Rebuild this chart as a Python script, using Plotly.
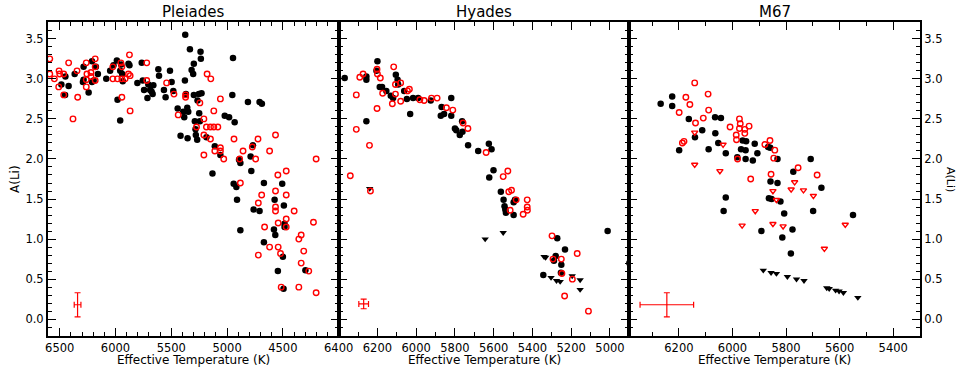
import plotly.graph_objects as go
from plotly.subplots import make_subplots

# ---- Pleiades ----
pl_det_teff = [6485, 6449, 6452, 6420, 6366, 6286, 6292, 6286, 6241, 6211, 6211, 6196, 6176, 6158,
               6083, 6048, 6018, 5988, 5982, 5958, 5958, 5949, 5940, 5935, 5884, 5875, 5804, 5765,
               5756, 5744, 5714, 5706, 5690, 5676, 5661, 5667, 5616, 5610, 5566, 5551, 5512, 5497,
               5482, 5443, 5417, 5393, 5384, 5378, 5375, 5369, 5357, 5348, 5354, 5333, 5318, 5304,
               5298, 5298, 5289, 5283, 5280, 5268, 5265, 5253, 5250, 5244, 5238, 5235, 5229, 5185,
               5131, 5110, 5060, 5021, 4982, 4953, 4947, 4941, 4932, 4917, 4911, 4893, 4881, 4881,
               4813, 4789, 4783, 4768, 4762, 4709, 4709, 4688, 4670, 4670, 4580, 4574, 4568, 4545,
               4506, 4500, 4494, 4491, 4485, 4485, 4298]
pl_det_ali = [2.93, 3.03, 2.80, 2.91, 3.06, 3.15, 2.96, 2.99, 2.83, 3.22, 2.96, 2.98, 3.15, 3.06,
              3.00, 3.10, 3.17, 3.23, 2.74, 3.10, 2.48, 3.18, 3.06, 2.97, 3.19, 3.17, 2.95, 3.20,
              2.98, 2.86, 2.76, 2.93, 2.86, 2.84, 2.92, 2.81, 3.12, 3.04, 2.86, 2.77, 3.10, 2.96,
              2.85, 2.63, 2.29, 2.59, 2.52, 2.98, 3.55, 2.81, 2.64, 2.59, 2.26, 3.37, 3.11, 3.06,
              3.19, 2.80, 2.47, 2.37, 2.30, 2.24, 2.73, 2.81, 2.57, 2.47, 3.34, 3.25, 2.82, 2.27,
              1.82, 2.16, 2.05, 2.54, 2.52, 2.80, 3.26, 1.69, 2.46, 1.65, 1.49, 1.99, 1.95, 1.11,
              2.71, 2.03, 1.85, 2.17, 1.37, 1.35, 2.71, 2.69, 1.70, 0.96, 1.12, 1.49, 1.05, 0.60,
              1.69, 0.78, 0.38, 1.42, 1.15, 1.19, 0.61]
pl_lit_teff = [6589, 6589, 6548, 6509, 6506, 6500, 6464, 6464, 6420, 6381, 6345, 6339, 6262, 6262,
               6262, 6256, 6220, 6220, 6182, 6182, 6182, 6024, 6024, 5982, 5952, 5943, 5943, 5943,
               5914, 5884, 5875, 5869, 5869, 5720, 5720, 5542, 5476, 5438, 5372, 5372, 5274, 5244,
               5208, 5208, 5208, 5185, 5179, 5149, 5149, 5146, 5119, 5119, 5110, 5083, 5060, 5060,
               5060, 5030, 4938, 4887, 4881, 4857, 4774, 4744, 4723, 4720, 4720, 4690, 4664, 4619,
               4619, 4566, 4566, 4566, 4566, 4545, 4542, 4542, 4521, 4515, 4470, 4470, 4470, 4470,
               4399, 4357, 4357, 4336, 4336, 4313, 4268, 4226, 4202, 4202]
pl_lit_ali = [3.25, 3.06, 3.00, 2.90, 3.10, 3.06, 3.06, 2.80, 3.20, 2.50, 3.10, 2.77, 3.20, 2.99,
              2.90, 3.06, 3.08, 3.03, 3.25, 3.15, 2.98, 3.15, 3.00, 3.00, 3.20, 3.15, 3.00, 2.77,
              3.00, 3.06, 3.30, 3.04, 2.60, 3.20, 2.98, 2.95, 2.81, 2.55, 2.80, 2.77, 2.40, 2.70,
              2.50, 2.30, 2.05, 2.40, 3.06, 2.40, 2.25, 3.00, 2.40, 2.60, 2.10, 2.40, 2.75, 2.14,
              2.10, 2.00, 2.25, 2.00, 1.70, 2.10, 2.15, 2.00, 2.25, 1.45, 0.80, 1.55, 1.15, 0.90,
              2.10, 2.30, 1.60, 1.40, 1.35, 1.80, 1.20, 0.90, 0.82, 0.40, 1.85, 1.55, 1.25, 1.15,
              1.35, 1.00, 0.40, 1.05, 0.70, 0.85, 0.60, 1.21, 2.00, 0.33]

# ---- Hyades ----
hy_det_teff = [6369, 6257, 6257, 6257, 6200, 6205, 6188, 6176, 6154, 6131, 6119, 6105, 6096, 6093,
               6062, 6048, 6031, 6016, 5990, 5925, 5873, 5869, 5856, 5819, 5819, 5800, 5793, 5775,
               5761, 5763, 5732, 5680, 5625, 5611, 5623, 5601, 5563, 5549, 5544, 5540, 5537, 5497,
               5497, 5490, 5344, 5272, 5280, 5289, 5251, 5232, 5253, 5012, 4900]
hy_det_ali = [3.01, 3.03, 2.99, 2.47, 3.22, 3.10, 2.90, 2.90, 2.85, 2.79, 2.76, 3.05, 2.99, 2.93,
              2.85, 2.75, 2.56, 2.76, 2.76, 2.73, 2.54, 2.65, 2.56, 2.76, 2.54, 2.38, 2.36, 2.30,
              2.34, 2.47, 2.17, 2.10, 2.19, 2.12, 1.77, 1.86, 1.59, 1.49, 1.41, 1.37, 1.33, 1.30,
              1.46, 1.49, 0.55, 1.01, 0.79, 0.73, 0.68, 0.87, 0.58, 1.10, 0.70]
hy_lim_teff = [6240, 5644, 5551, 5340, 5332, 5304, 5276, 5257, 5195, 5154, 5154]
hy_lim_ali = [1.63, 1.00, 1.08, 0.78, 0.77, 0.52, 0.48, 0.47, 0.54, 0.49, 0.37]
hy_lit_teff = [6340, 6309, 6309, 6291, 6274, 6241, 6236, 6202, 6200, 6202, 6185, 6173, 6123, 6116,
               6107, 6107, 6080, 6080, 6045, 6035, 5981, 5959, 5921, 5892, 5844, 5811, 5758, 5733,
               5639, 5551, 5527, 5522, 5508, 5515, 5484, 5448, 5427, 5427, 5426, 5299, 5294, 5251,
               5248, 5234, 5194, 5169, 5111]
hy_lit_ali = [1.79, 2.80, 2.37, 3.02, 3.06, 2.17, 1.60, 3.12, 3.06, 2.63, 3.01, 2.82, 2.69, 3.15,
              2.81, 2.93, 2.95, 2.72, 2.85, 2.87, 2.74, 2.73, 2.76, 2.76, 2.64, 2.61, 2.45, 2.38,
              2.08, 1.78, 1.85, 1.59, 1.61, 1.36, 1.49, 1.31, 1.49, 1.40, 1.36, 1.04, 0.75, 0.75,
              0.57, 0.29, 0.50, 0.82, 0.10]

# ---- M67 ----
m67_det_teff = [6268, 6225, 6225, 6163, 6199, 6140, 6113, 6089, 6065, 6064, 6043, 6053, 6025, 6025,
                6033, 5982, 5968, 5962, 5949, 5951, 5951, 5924, 5917, 5907, 5892, 5867, 5859, 5832,
                5858, 5864, 5854, 5832, 5821, 5807, 5814, 5776, 5773, 5782, 5708, 5699, 5668, 5550]
m67_det_ali = [2.69, 2.78, 2.66, 2.50, 2.11, 2.27, 2.36, 2.12, 2.52, 2.32, 2.51, 2.20, 2.07, 1.52,
               1.35, 2.02, 2.12, 2.23, 2.22, 2.11, 2.00, 1.98, 2.19, 2.07, 1.10, 2.15, 2.14, 2.00,
               1.72, 1.51, 1.50, 1.70, 1.47, 1.32, 1.02, 1.12, 1.84, 0.82, 2.00, 1.35, 1.64, 1.30]
m67_lim_teff = [5885, 5856, 5836, 5795, 5761, 5733, 5648, 5639, 5615, 5602, 5586, 5532]
m67_lim_ali = [0.61, 0.58, 0.57, 0.53, 0.50, 0.48, 0.39, 0.38, 0.36, 0.35, 0.33, 0.27]
m67_lit_teff = [6141, 6174, 6159, 6199, 6138, 6187, 6181, 6091, 6089, 6109, 6009, 5974, 5971, 5974,
                5954, 5954, 5938, 5986, 5985, 5981, 5932, 5879, 5860, 5842, 5846, 5856, 5755, 5684]
m67_lit_ali = [2.95, 2.77, 2.68, 2.58, 2.45, 2.20, 2.22, 2.81, 2.61, 2.51, 2.40, 2.50, 2.44, 2.38,
               2.37, 2.32, 2.41, 2.30, 2.24, 2.00, 1.75, 2.18, 2.23, 2.11, 2.01, 1.81, 1.89, 1.80]
m67_litlim_teff = [6141, 6141, 6035, 6047, 5964, 5915, 5849, 5836, 5849, 5811, 5768, 5781, 5735,
                   5698, 5657, 5579]
m67_litlim_ali = [2.33, 1.93, 2.18, 1.85, 1.17, 1.35, 1.60, 1.49, 1.19, 1.16, 1.71, 1.62, 1.61,
                  1.54, 0.88, 1.18]

# typical errors (teff, ali, dteff, dali)
err_teff = [6340, 6271, 6245]
err_ali = [0.18, 0.19, 0.18]
err_dteff = [30, 25, 100]
err_dali = [0.15, 0.06, 0.15]

titles = ['Pleiades', 'Hyades', 'M67']
x_ranges = [[6605, 4000], [6400, 4900], [6385, 5300]]
x_ticks = [[6500, 6000, 5500, 5000, 4500],
           [6400, 6200, 6000, 5800, 5600, 5400, 5200, 5000],
           [6200, 6000, 5800, 5600, 5400]]
y_ticks = [0.0, 0.5, 1.0, 1.5, 2.0, 2.5, 3.0, 3.5]

FONT = 'DejaVu Sans'
RED = '#ff0000'
ML, MR, MT, MB = 48, 49, 22, 37
W, H = 969, 373
PW, PH = W - ML - MR, H - MT - MB

fig = make_subplots(rows=1, cols=3, horizontal_spacing=0)


def det(x, y, col):
    fig.add_trace(go.Scatter(x=x, y=y, mode='markers',
                             marker=dict(symbol='circle', size=6.5, color='black'),
                             showlegend=False), row=1, col=col)


def lit(x, y, col, symbol='circle-open'):
    fig.add_trace(go.Scatter(x=x, y=y, mode='markers',
                             marker=dict(symbol=symbol, size=5.5, color=RED, line=dict(width=1.4, color=RED)),
                             showlegend=False), row=1, col=col)


def lim(x, y, col):
    fig.add_trace(go.Scatter(x=x, y=y, mode='markers',
                             marker=dict(symbol='triangle-down', size=6.5, color='black'),
                             showlegend=False), row=1, col=col)


det(pl_det_teff, pl_det_ali, 1)
lit(pl_lit_teff, pl_lit_ali, 1)

det(hy_det_teff, hy_det_ali, 2)
lim(hy_lim_teff, hy_lim_ali, 2)
lit(hy_lit_teff, hy_lit_ali, 2)

det(m67_det_teff, m67_det_ali, 3)
lim(m67_lim_teff, m67_lim_ali, 3)
lit(m67_lit_teff, m67_lit_ali, 3)
lit(m67_litlim_teff, m67_litlim_ali, 3, symbol='triangle-down-open')

for i in range(3):
    fig.add_trace(go.Scatter(
        x=[err_teff[i]], y=[err_ali[i]], mode='markers',
        marker=dict(size=1, color=RED),
        error_x=dict(type='constant', value=err_dteff[i], color=RED, thickness=1.2, width=3),
        error_y=dict(type='constant', value=err_dali[i], color=RED, thickness=1.2, width=3),
        showlegend=False), row=1, col=i + 1)

axis_common = dict(showline=True, linecolor='black', linewidth=2, mirror='allticks',
                   ticks='inside', ticklen=8, tickwidth=1.3, tickcolor='black',
                   showgrid=False, zeroline=False, automargin=False,
                   tickfont=dict(family=FONT, size=11.5, color='black'))

for i in range(3):
    fig.update_xaxes(axis_common, range=x_ranges[i], tickvals=x_ticks[i],
                     minor=dict(ticks='inside', ticklen=4, tickwidth=1.2, tickcolor='black', dtick=100),
                     row=1, col=i + 1)
    fig.update_yaxes(axis_common, range=[-0.21, 3.71], tickvals=y_ticks, tickformat='.1f',
                     minor=dict(ticks='inside', ticklen=4, tickwidth=1.2, tickcolor='black', dtick=0.1),
                     row=1, col=i + 1)

fig.update_yaxes(showticklabels=False, row=1, col=2)
fig.update_yaxes(side='right', row=1, col=3)

# panel titles and axis titles as annotations
for i in range(3):
    xc = (i + 0.5) / 3
    fig.add_annotation(text=titles[i], xref='paper', yref='paper', x=xc, y=1 + 10 / PH,
                       xanchor='center', yanchor='middle', showarrow=False,
                       font=dict(family=FONT, size=15, color='black'))
    fig.add_annotation(text='Effective Temperature (K)', xref='paper', yref='paper', x=xc, y=-24 / PH,
                       xanchor='center', yanchor='middle', showarrow=False,
                       font=dict(family=FONT, size=12, color='black'))

fig.add_annotation(text='A(Li)', xref='paper', yref='paper', x=(15 - ML) / PW, y=0.5,
                   xanchor='center', yanchor='middle', textangle=-90, showarrow=False,
                   font=dict(family=FONT, size=12, color='black'))
fig.add_annotation(text='A(Li)', xref='paper', yref='paper', x=(951 - ML) / PW, y=0.5,
                   xanchor='center', yanchor='middle', textangle=90, showarrow=False,
                   font=dict(family=FONT, size=11, color='black'))

fig.update_layout(width=W, height=H,
                  margin=dict(l=ML, r=MR, t=MT, b=MB),
                  plot_bgcolor='white', paper_bgcolor='white',
                  font=dict(family=FONT, color='black'))

# drop the default page margin so the figure sits at the window's corner
fig.write_html('out.html', config={'displayModeBar': False},
               post_script="document.body.style.margin = '0';")
